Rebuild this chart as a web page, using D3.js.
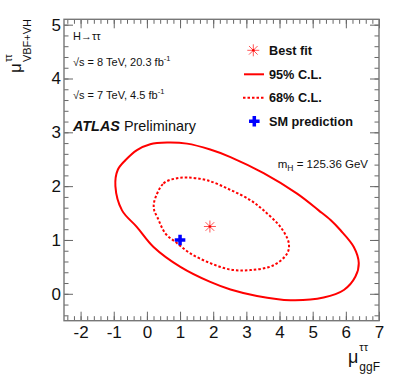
<!DOCTYPE html>
<html>
<head>
<meta charset="utf-8">
<script src="https://cdn.jsdelivr.net/npm/d3@7"></script>
<style>
  body { margin: 0; background: #fff; }
  text { font-family: "Liberation Sans", Arial, Helvetica, sans-serif; }
</style>
</head>
<body>
<script>
// contours, [mu_ggF, mu_VBF+VH]
var cl95 = [[-0.95, 2.00], [-0.88, 2.30], [-0.65, 2.48], [-0.30, 2.67], [0.10, 2.78], [0.61, 2.81],
  [1.21, 2.79], [1.91, 2.68], [2.52, 2.54], [3.52, 2.24], [4.53, 1.86], [5.18, 1.55], [5.54, 1.37],
  [5.84, 1.18], [6.24, 0.87], [6.39, 0.57], [6.29, 0.32], [5.94, 0.07], [5.33, -0.07], [4.33, -0.12],
  [3.32, -0.04], [2.52, 0.08], [1.91, 0.22], [1.01, 0.50], [0.20, 0.87], [-0.30, 1.24], [-0.75, 1.55]];
var cl68 = [[0.22, 1.71], [0.50, 2.05], [0.85, 2.14], [1.21, 2.16], [1.81, 2.11], [2.52, 1.93],
  [3.12, 1.74], [3.52, 1.55], [4.03, 1.24], [4.28, 0.94], [4.23, 0.75], [3.82, 0.53], [3.12, 0.44],
  [2.52, 0.45], [1.91, 0.57], [1.31, 0.75], [0.91, 0.94], [0.56, 1.12], [0.31, 1.43], [0.22, 1.55]];
var bestFit = [1.9, 1.25];
var smPoint = [1, 1];
var xTicks = [-2, -1, 0, 1, 2, 3, 4, 5, 6, 7];
var yTicks = [0, 1, 2, 3, 4, 5];
var legendLabels = ["Best fit", "95% C.L.", "68% C.L.", "SM prediction"];

var w = 399, h = 382;
var margin = { left: 64, right: 379, top: 19.3, bottom: 320.7 };

var svg = d3.select("body").append("svg")
  .attr("width", w)
  .attr("height", h);

var x = d3.scaleLinear().domain([-2.5, 7]).range([margin.left, margin.right]);
var y = d3.scaleLinear().domain([-0.5, 5.1]).range([margin.bottom, margin.top]);

var xMinor = d3.range(-2.4, 7.001, 0.2).map(function(v){ return +v.toFixed(1); });
var yMinor = d3.range(-0.4, 5.101, 0.2).map(function(v){ return +v.toFixed(1); });

var tickCol = "#666";

// ticks on all four sides, pointing in
var drawAxis = function(axisFn, scale, tr, vals, size, fmt){
  var g = svg.append("g").attr("transform", tr)
    .call(axisFn(scale).tickValues(vals).tickSize(-size).tickSizeOuter(0).tickFormat(fmt));
  g.select(".domain").remove();
  g.selectAll("line").attr("stroke", tickCol).attr("stroke-width", 1);
  return g;
}
var none = function(){ return ""; };
var plain = function(d){ return String(d); };

var tb = "translate(0," + margin.bottom + ")";
var tt = "translate(0," + margin.top + ")";
var tl = "translate(" + margin.left + ",0)";
var tr = "translate(" + margin.right + ",0)";

drawAxis(d3.axisBottom, x, tb, xMinor, 4.5, none);
drawAxis(d3.axisTop, x, tt, xMinor, 4.5, none);
drawAxis(d3.axisLeft, y, tl, yMinor, 4.5, none);
drawAxis(d3.axisRight, y, tr, yMinor, 4.5, none);
drawAxis(d3.axisTop, x, tt, xTicks, 9, none);
drawAxis(d3.axisRight, y, tr, yTicks, 9, none);

var xb = drawAxis(d3.axisBottom, x, tb, xTicks, 9, plain);
xb.selectAll("text").attr("dy", null).attr("y", 17)
  .attr("font-size", 17).attr("fill", "#111").style("font-family", "Liberation Sans, Arial, sans-serif");
var yl = drawAxis(d3.axisLeft, y, tl, yTicks, 9, plain);
yl.selectAll("text").attr("x", -3)
  .attr("font-size", 17).attr("fill", "#111").style("font-family", "Liberation Sans, Arial, sans-serif");

// frame
svg.append("rect")
  .attr("x", margin.left).attr("y", margin.top)
  .attr("width", margin.right - margin.left).attr("height", margin.bottom - margin.top)
  .attr("fill", "none").attr("stroke", "#777").attr("stroke-width", 1.4);

// contours
var line = d3.line()
  .x(function(d){ return x(d[0]); })
  .y(function(d){ return y(d[1]); })
  .curve(d3.curveCatmullRomClosed);

svg.append("path").attr("d", line(cl95))
  .attr("fill", "none").attr("stroke", "#ff0000").attr("stroke-width", 2);
svg.append("path").attr("d", line(cl68))
  .attr("fill", "none").attr("stroke", "#ff0000").attr("stroke-width", 2)
  .attr("stroke-dasharray", "2.5,2");

// markers
var asterisk = function(cx, cy, r){
  var p = d3.path();
  var d = r * 0.72;
  p.moveTo(cx - r, cy); p.lineTo(cx + r, cy);
  p.moveTo(cx, cy - r); p.lineTo(cx, cy + r);
  p.moveTo(cx - d, cy - d); p.lineTo(cx + d, cy + d);
  p.moveTo(cx - d, cy + d); p.lineTo(cx + d, cy - d);
  return p.toString();
}
var drawStar = function(cx, cy){
  svg.append("path").attr("d", asterisk(cx, cy, 6))
    .attr("stroke", "#ff5555").attr("stroke-width", 1).attr("fill", "none");
  svg.append("circle").attr("cx", cx).attr("cy", cy).attr("r", 1.3).attr("fill", "#ff0000");
}
var drawCross = function(cx, cy){
  svg.append("path").attr("d", d3.symbol().type(d3.symbolCross).size(62)())
    .attr("transform", "translate(" + cx + "," + cy + ")")
    .attr("fill", "#0000ff");
}

drawStar(x(bestFit[0]), y(bestFit[1]));
drawCross(x(smPoint[0]), y(smPoint[1]));

// legend
var legY = [55.3, 78.8, 102.3, 125.8];
drawStar(253.3, legY[0] - 5);
svg.append("line").attr("x1", 244).attr("x2", 264).attr("y1", legY[1] - 4.5).attr("y2", legY[1] - 4.5)
  .attr("stroke", "#ff0000").attr("stroke-width", 2);
svg.append("line").attr("x1", 243).attr("x2", 264).attr("y1", legY[2] - 4.5).attr("y2", legY[2] - 4.5)
  .attr("stroke", "#ff0000").attr("stroke-width", 2).attr("stroke-dasharray", "2.5,2");
drawCross(254.3, legY[3] - 4.5);

svg.selectAll(".leg").data(legendLabels).enter().append("text")
  .attr("x", 269)
  .attr("y", function(d, i){ return legY[i]; })
  .attr("font-size", 12.7).attr("font-weight", "bold").attr("fill", "#111")
  .text(function(d){ return d; });

// labels on the left
var t1 = svg.append("text").attr("x", 73).attr("y", 40).attr("font-size", 11).attr("fill", "#111");
t1.append("tspan").text("H\u2192\u03c4\u03c4");

var energy = function(yy, txt){
  var t = svg.append("text").attr("x", 73).attr("y", yy).attr("font-size", 11).attr("fill", "#111");
  t.append("tspan").text(txt);
  t.append("tspan").attr("font-size", 7.5).attr("dy", -5).text("-1");
}
energy(66, "\u221as = 8 TeV, 20.3 fb");
energy(99.3, "\u221as = 7 TeV, 4.5 fb");

var atl = svg.append("text").attr("x", 73).attr("y", 131).attr("font-size", 14.4).attr("fill", "#111");
atl.append("tspan").attr("font-weight", "bold").attr("font-style", "italic").text("ATLAS");
atl.append("tspan").text(" Preliminary");

var mh = svg.append("text").attr("x", 368).attr("y", 168.3).attr("font-size", 11.5)
  .attr("text-anchor", "end").attr("fill", "#111");
mh.append("tspan").text("m");
mh.append("tspan").attr("font-size", 8.5).attr("dy", 3).text("H");
mh.append("tspan").attr("dy", -3).text(" = 125.36 GeV");

// axis titles: mu with stacked super- and subscript
var muTitle = function(g, sub, fs){
  var m = g.append("text").attr("x", 0).attr("y", 0).attr("font-size", fs[0]).attr("fill", "#111").text("\u03bc");
  var wm = m.node().getComputedTextLength() + 1;
  var sp = g.append("text").attr("x", wm).attr("y", fs[3]).attr("font-size", fs[1]).attr("fill", "#111").text("\u03c4\u03c4");
  var sb = g.append("text").attr("x", wm).attr("y", fs[4]).attr("font-size", fs[2]).attr("fill", "#111").text(sub);
  return wm + Math.max(sp.node().getComputedTextLength(), sb.node().getComputedTextLength());
}

var gx = svg.append("g");
var wx = muTitle(gx, "ggF", [18, 11, 12, -12, 8]);
gx.attr("transform", "translate(" + (380 - wx) + ",363)");

var gy = svg.append("g");
var wy = muTitle(gy, "VBF+VH", [17, 10, 11, -9, 10]);
gy.attr("transform", "translate(21," + (19 + wy) + ") rotate(-90)");
</script>
</body>
</html>
